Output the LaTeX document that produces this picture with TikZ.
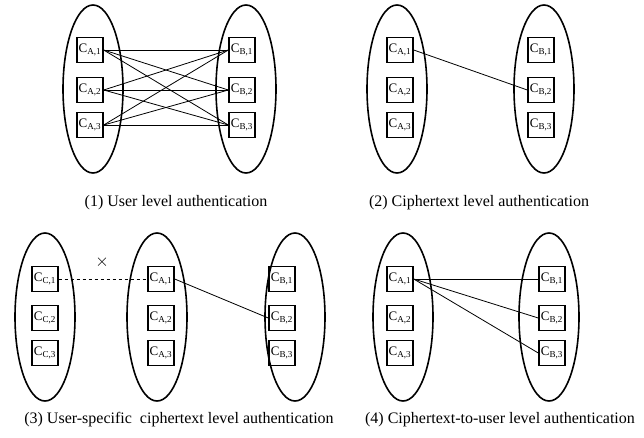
\documentclass[tikz,border=0pt]{standalone}
\usepackage{fontspec}
\setmainfont{Liberation Serif}
\usetikzlibrary{shapes.geometric}
\begin{document}
\begin{tikzpicture}[x=1pt,y=-1pt,
  grp/.style={draw,line width=1.6pt,ellipse, minimum width=60pt, minimum height=168pt, inner sep=0pt},
  cbox/.style={draw,line width=1.4pt,minimum width=26pt,minimum height=25pt,inner sep=0pt,font=\fontsize{13}{14}\selectfont},
  link/.style={line width=0.8pt},
  captext/.style={font=\fontsize{16}{18}\selectfont}]
\useasboundingbox (0,0) rectangle (644,437);
\newcommand\lbl[2]{C\textsubscript{#1,#2}}
% Panel 1
\node[grp] (e1l) at (93,89) {};
\node[grp] (e1r) at (246,89) {};
\foreach \i/\y in {1/50,2/90,3/125}{
  \node[cbox] (pa\i) at (90,\y) {\lbl{A}{\i}};
  \node[cbox] (pb\i) at (242,\y) {\lbl{B}{\i}};
}
\foreach \i in {1,2,3}{\foreach \j in {1,2,3}{\draw[link] (pa\i.east) -- (pb\j.west);}}
\node[captext] (c1) at (176,203) {(1) User level authentication};
% Panel 2
\node[grp] (e2l) at (397,89) {};
\node[grp] (e2r) at (544,89) {};
\foreach \i/\y in {1/50,2/90,3/125}{
  \node[cbox] (qa\i) at (400,\y) {\lbl{A}{\i}};
  \node[cbox] (qb\i) at (541,\y) {\lbl{B}{\i}};
}
\draw[link] (qa1.east) -- (qb2.west);
\node[captext] (c2) at (479,203) {(2) Ciphertext level authentication};
% Panel 3
\node[grp] (e3c) at (45,317) {};
\node[grp] (e3a) at (157,317) {};
\node[grp] (e3b) at (295,317) {};
\foreach \i/\y in {1/279,2/318,3/353}{
  \node[cbox] (rc\i) at (45,\y) {\lbl{C}{\i}};
  \node[cbox] (ra\i) at (161,\y) {\lbl{A}{\i}};
  \node[cbox] (rb\i) at (282,\y) {\lbl{B}{\i}};
}
\draw[link,dashed] (rc1.east) -- (ra1.west);
\draw[link] (ra1.east) -- (rb2.west);
\node[font=\fontsize{16}{16}\selectfont] (x3) at (102,262) {$\times$};
\node[captext] (c3) at (179,420) {(3) User-specific\ \ ciphertext level authentication};
% Panel 4
\node[grp] (e4l) at (403,317) {};
\node[grp] (e4r) at (549,317) {};
\foreach \i/\y in {1/279,2/318,3/353}{
  \node[cbox] (sa\i) at (400,\y) {\lbl{A}{\i}};
  \node[cbox] (sb\i) at (552,\y) {\lbl{B}{\i}};
}
\foreach \j in {1,2,3}{\draw[link] (sa1.east) -- (sb\j.west);}
\node[captext] (c4) at (500,420) {(4) Ciphertext-to-user level authentication};
\end{tikzpicture}
\end{document}
